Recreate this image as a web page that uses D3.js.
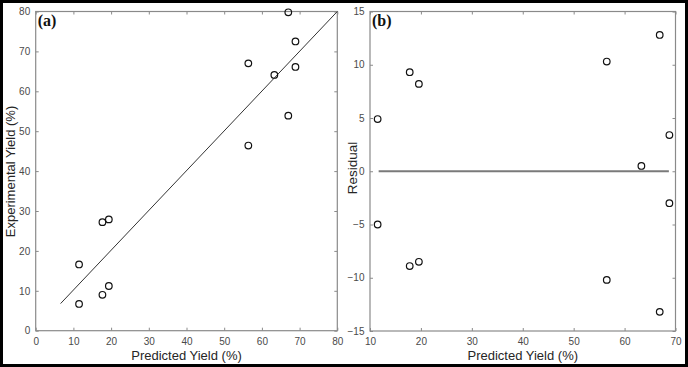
<!DOCTYPE html>
<html><head><meta charset="utf-8">
<script src="https://cdn.jsdelivr.net/npm/d3@7"></script>
<style>html,body{margin:0;padding:0;background:#fff;}svg{display:block;}</style>
</head><body>
<script>
// Panel (a): predicted vs experimental yield
const predA = [67.0, 68.9, 56.4, 63.3, 68.9, 67.0, 56.4, 17.7, 19.4, 11.5, 19.4, 17.7, 11.5];
const expA  = [79.8, 72.5, 67.0, 64.1, 66.1, 53.9, 46.4, 27.2, 27.9, 16.6, 11.2, 9.0, 6.7];
const fitX = [6.6, 80];
const fitY = [6.8, 80];
const ticksAx = [0, 10, 20, 30, 40, 50, 60, 70, 80];
const ticksAy = [0, 10, 20, 30, 40, 50, 60, 70, 80];
// Panel (b): residuals
const predB = [11.5, 17.8, 19.6, 56.5, 66.9, 68.8, 63.3, 11.5, 17.8, 19.6, 56.5, 66.9, 68.8];
const resB  = [4.9, 9.3, 8.2, 10.3, 12.8, 3.4, 0.5, -5.0, -8.9, -8.5, -10.2, -13.2, -3.0];
const zeroX = [11.7, 68.7];
const ticksBx = [10, 20, 30, 40, 50, 60, 70];
const ticksBy = [-15, -10, -5, 0, 5, 10, 15];

const W = 688, H = 367;
const svg = d3.select("body").append("svg").attr("width", W).attr("height", H);
svg.append("rect").attr("x",0).attr("y",0).attr("width",W).attr("height",H).attr("fill","#fff");

const axisCol = "#8a8a8a", tickTxt = "#4a4a4a", labCol = "#262626";
const tickFont = "Liberation Sans, Arial, sans-serif";

function panel(opts) {
  const {x0, x1, y0, y1, xDom, yDom, xt, yt, xLab, yLab, yLabX, yLabY, yLabSize, tag} = opts;
  const xs = d3.scaleLinear().domain(xDom).range([x0, x1]);
  const ys = d3.scaleLinear().domain(yDom).range([y1, y0]);
  const g = svg.append("g");
  const styleAxis = (sel, showText) => {
    sel.select(".domain").remove();
    sel.selectAll(".tick line").attr("stroke", axisCol).attr("stroke-width", 1);
    sel.selectAll(".tick text").attr("fill", tickTxt).attr("font-family", tickFont).attr("font-size", 10)
      .style("display", showText ? null : "none");
  };
  g.append("g").attr("transform", `translate(0,${y1})`)
    .call(d3.axisBottom(xs).tickValues(xt).tickSizeInner(-3).tickSizeOuter(0).tickPadding(7).tickFormat(d3.format("d")))
    .call(s => styleAxis(s, true));
  g.append("g").attr("transform", `translate(0,${y0})`)
    .call(d3.axisTop(xs).tickValues(xt).tickSizeInner(-3).tickSizeOuter(0))
    .call(s => styleAxis(s, false));
  g.append("g").attr("transform", `translate(${x0},0)`)
    .call(d3.axisLeft(ys).tickValues(yt).tickSizeInner(-3).tickSizeOuter(0).tickPadding(5.5).tickFormat(d3.format("d")))
    .call(s => styleAxis(s, true));
  g.append("g").attr("transform", `translate(${x1},0)`)
    .call(d3.axisRight(ys).tickValues(yt).tickSizeInner(-3).tickSizeOuter(0))
    .call(s => styleAxis(s, false));
  g.append("rect").attr("x", x0).attr("y", y0).attr("width", x1 - x0).attr("height", y1 - y0)
    .attr("fill", "none").attr("stroke", axisCol).attr("stroke-width", 1.2);
  g.append("text").attr("x", (x0 + x1) / 2).attr("y", 360).attr("text-anchor", "middle")
    .attr("font-family", tickFont).attr("font-size", 13).attr("fill", labCol).text(xLab);
  g.append("text").attr("transform", `translate(${yLabX},${yLabY}) rotate(-90)`)
    .attr("text-anchor", "middle").attr("font-family", tickFont).attr("font-size", yLabSize)
    .attr("fill", labCol).text(yLab);
  g.append("text").attr("x", x0 + 2).attr("y", y0 + 14).attr("font-family", "Liberation Serif, Times New Roman, serif")
    .attr("font-weight", "bold").attr("font-size", 16).attr("fill", "#111").text(tag);
  return {g, xs, ys};
}

const A = panel({x0: 35.7, x1: 337.3, y0: 11.5, y1: 330.7, xDom: [0, 80], yDom: [0, 80],
  xt: ticksAx, yt: ticksAy, xLab: "Predicted Yield (%)", yLab: "Experimental Yield (%)",
  yLabX: 14.5, yLabY: 171.5, yLabSize: 13, tag: "(a)"});
A.g.append("line").attr("x1", A.xs(fitX[0])).attr("y1", A.ys(fitY[0])).attr("x2", A.xs(fitX[1])).attr("y2", A.ys(fitY[1]))
  .attr("stroke", "#333").attr("stroke-width", 1);
A.g.selectAll("circle.pt").data(predA.map((p, i) => [p, expA[i]])).enter().append("circle")
  .attr("cx", d => A.xs(d[0])).attr("cy", d => A.ys(d[1])).attr("r", 3.3)
  .attr("fill", "none").attr("stroke", "#111").attr("stroke-width", 1.2);

const B = panel({x0: 370, x1: 675.5, y0: 11.5, y1: 331, xDom: [10, 70], yDom: [-15, 15],
  xt: ticksBx, yt: ticksBy, xLab: "Predicted Yield (%)", yLab: "Residual",
  yLabX: 357, yLabY: 168, yLabSize: 13.5, tag: "(b)"});
B.g.append("line").attr("x1", B.xs(zeroX[0])).attr("y1", B.ys(0)).attr("x2", B.xs(zeroX[1])).attr("y2", B.ys(0))
  .attr("stroke", "#7a7a7a").attr("stroke-width", 1.8);
B.g.selectAll("circle.pt").data(predB.map((p, i) => [p, resB[i]])).enter().append("circle")
  .attr("cx", d => B.xs(d[0])).attr("cy", d => B.ys(d[1])).attr("r", 3.3)
  .attr("fill", "none").attr("stroke", "#111").attr("stroke-width", 1.2);

svg.append("rect").attr("x", 1.5).attr("y", 1.5).attr("width", W - 3).attr("height", H - 3)
  .attr("fill", "none").attr("stroke", "#000").attr("stroke-width", 3);
</script>
</body></html>
